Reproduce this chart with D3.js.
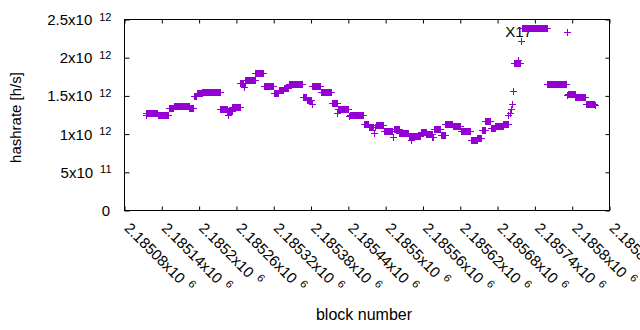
<!DOCTYPE html>
<html><head><meta charset="utf-8">
<script src="https://cdn.jsdelivr.net/npm/d3@7"></script>
<style>body{margin:0;background:#fff}svg{display:block}text{font-family:"Liberation Sans",Arial,sans-serif;fill:#000}</style>
</head><body><svg id="c" width="640" height="330"></svg>
<script>
// Runs of consecutive blocks: first block, last block, hashrate (x1e12 h/s)
const runStart = [2185115,2185116,2185134,2185152,2185160,2185185,2185192,2185197,2185206,2185235,2185246,2185247,2185248,2185254,2185267,2185273,2185274,2185275,2185291,2185305,2185321,2185329,2185337,2185345,2185368,2185374,2185382,2185383,2185397,2185414,2185423,2185424,2185442,2185443,2185466,2185474,2185482,2185483,2185485,2185498,2185512,2185514,2185523,2185538,2185541,2185542,2185557,2185566,2185576,2185578,2185590,2185597,2185609,2185622,2185638,2185648,2185655,2185661,2185670,2185677,2185690,2185698,2185700,2185702,2185704,2185706,2185707,2185714,2185715,2185718,2185720,2185761,2185792,2185794,2185806,2185823,2185837];
const runEnd   = [2185115,2185133,2185151,2185159,2185184,2185191,2185196,2185205,2185234,2185245,2185246,2185247,2185253,2185266,2185272,2185273,2185274,2185290,2185304,2185320,2185328,2185336,2185344,2185367,2185373,2185381,2185382,2185396,2185413,2185422,2185423,2185441,2185442,2185465,2185473,2185481,2185482,2185484,2185497,2185511,2185512,2185522,2185537,2185540,2185541,2185556,2185565,2185575,2185577,2185589,2185596,2185608,2185621,2185637,2185647,2185654,2185660,2185669,2185676,2185689,2185697,2185698,2185700,2185702,2185704,2185706,2185713,2185714,2185717,2185718,2185760,2185791,2185792,2185805,2185822,2185836,2185837];
const runRate  = [1.240,1.272,1.243,1.337,1.363,1.337,1.497,1.533,1.546,1.328,1.296,1.250,1.296,1.354,1.667,1.605,1.667,1.706,1.793,1.621,1.530,1.569,1.598,1.650,1.484,1.445,1.393,1.621,1.546,1.402,1.272,1.324,1.228,1.250,1.120,1.081,1.012,1.081,1.116,1.035,0.951,1.059,1.012,0.970,0.911,0.970,1.022,1.000,0.960,1.064,0.987,1.126,1.100,1.035,0.918,0.947,1.048,1.163,1.077,1.100,1.129,1.250,1.276,1.328,1.389,1.562,1.923,1.966,1.923,2.214,2.387,1.650,1.501,1.520,1.475,1.389,1.371];

const xTickValues = [2185080,2185140,2185200,2185260,2185320,2185380,2185440,2185500,2185560,2185620,2185680,2185740,2185800,2185860];
const xTickMantissa = ["2.18508","2.18514","2.1852","2.18526","2.18532","2.18538","2.18544","2.1855","2.18556","2.18562","2.18568","2.18574","2.1858","2.18586"];
const xTickExponent = ["6","6","6","6","6","6","6","6","6","6","6","6","6","6"];
const yTickValues = [0, 5e11, 1e12, 1.5e12, 2e12, 2.5e12];
const yTickMantissa = ["0","5","1","1.5","2","2.5"];
const yTickExponent = ["","11","12","12","12","12"];
const seriesName = "X17";
const xTitle = "block number";
const yTitle = "hashrate [h/s]";

const points = [];
runStart.forEach((s, i) => {
  for (let b = s; b <= runEnd[i]; b++) points.push({block: b, rate: runRate[i] * 1e12});
});

const L = 124.5, R = 609.5, T = 19.5, B = 210.5;
const color = "#9400d3";
const svg = d3.select("#c");
const x = d3.scaleLinear().domain([2185080, 2185860]).range([L, R]);
const y = d3.scaleLinear().domain([0, 2.5e12]).range([B, T]);

function ax(g){ g.select(".domain").remove(); g.selectAll(".tick line").attr("stroke","#000"); g.selectAll("text").remove(); }
svg.append("g").attr("transform",`translate(0,${B})`).call(d3.axisBottom(x).tickValues(xTickValues).tickSize(-4)).call(ax);
svg.append("g").attr("transform",`translate(0,${T})`).call(d3.axisTop(x).tickValues(xTickValues).tickSize(-4)).call(ax);
svg.append("g").attr("transform",`translate(${L},0)`).call(d3.axisLeft(y).tickValues(yTickValues).tickSize(-5)).call(ax);
svg.append("g").attr("transform",`translate(${R},0)`).call(d3.axisRight(y).tickValues(yTickValues).tickSize(-4)).call(ax);
svg.append("rect").attr("x",L).attr("y",T).attr("width",R-L).attr("height",B-T).attr("fill","none").attr("stroke","#000").attr("stroke-width",1);

// y tick labels
yTickValues.forEach((v,i) => {
  const t = svg.append("text").attr("text-anchor","end").attr("font-size",15)
    .attr("x", yTickExponent[i] ? 111.5 : 110).attr("y", y(v) + 5.5);
  t.append("tspan").text(yTickMantissa[i] + (yTickExponent[i] ? "x10" : ""));
  if (yTickExponent[i]) t.append("tspan").attr("font-size",11).attr("dx",7).attr("dy",-4.5).text(yTickExponent[i]);
});
// x tick labels (rotated)
xTickValues.forEach((v,i) => {
  const t = svg.append("text").attr("text-anchor","start").attr("font-size",15)
    .attr("transform",`translate(${x(v)-1},229) rotate(45)`);
  t.append("tspan").text(xTickMantissa[i]+"x10");
  t.append("tspan").attr("font-size",11).attr("dx",6).attr("dy",-6).text(xTickExponent[i]);
});
// titles
svg.append("text").attr("text-anchor","middle").attr("font-size",16).attr("x",364).attr("y",320).text(xTitle);
svg.append("text").attr("text-anchor","middle").attr("font-size",15).attr("transform","translate(21,117.5) rotate(-90)").text(yTitle);

// key text
svg.append("text").attr("text-anchor","end").attr("font-size",15).attr("x",532).attr("y",37).text(seriesName);

const plus = "M-3.5,0H3.5M0,-3.5V3.5";
svg.append("g").attr("shape-rendering","crispEdges").selectAll("path").data(points).join("path")
  .attr("d", plus).attr("transform", d => `translate(${x(d.block)},${y(d.rate)})`)
  .attr("fill","none").attr("stroke",color).attr("stroke-width",1);
// key sample
svg.append("path").attr("shape-rendering","crispEdges").attr("d",plus).attr("transform","translate(567,32.5)").attr("fill","none").attr("stroke",color).attr("stroke-width",1);
</script></body></html>
